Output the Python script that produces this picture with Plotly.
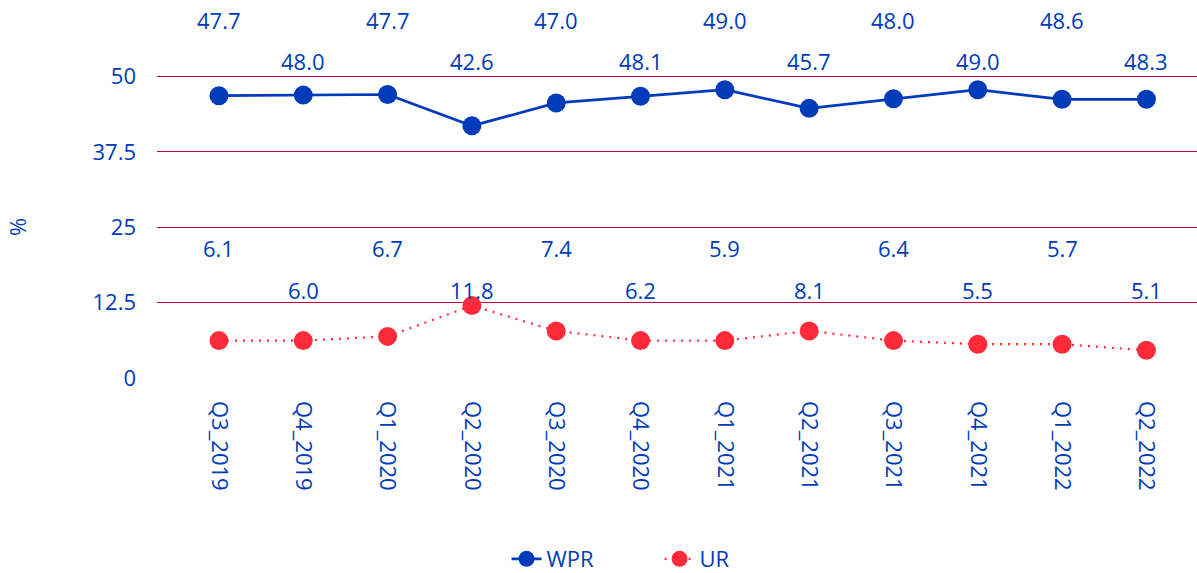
import plotly.graph_objects as go

quarters = ["Q3_2019", "Q4_2019", "Q1_2020", "Q2_2020", "Q3_2020", "Q4_2020",
            "Q1_2021", "Q2_2021", "Q3_2021", "Q4_2021", "Q1_2022", "Q2_2022"]
# plotted positions
wpr_values = [46.8, 46.9, 47.0, 41.8, 45.6, 46.7, 47.8, 44.7, 46.3, 47.8, 46.2, 46.2]
ur_values = [6.2, 6.2, 6.9, 12.0, 7.8, 6.2, 6.2, 7.8, 6.2, 5.6, 5.6, 4.6]
# value labels as printed on the chart
wpr_labels = ["47.7", "48.0", "47.7", "42.6", "47.0", "48.1", "49.0", "45.7", "48.0", "49.0", "48.6", "48.3"]
ur_labels = ["6.1", "6.0", "6.7", "11.8", "7.4", "6.2", "5.9", "8.1", "6.4", "5.5", "5.7", "5.1"]
y_ticks = [0, 12.5, 25, 37.5, 50]
y_ticktext = ["0", "12.5", "25", "37.5", "50"]

BLUE = "#003BBA"
RED = "#FF2A3A"
GRID = "#B8004F"
FONT = "Open Sans"
FS = 22

fig = go.Figure()
fig.add_trace(go.Scatter(
    x=quarters, y=wpr_values, name="WPR", mode="lines+markers",
    line=dict(color=BLUE, width=2.7), marker=dict(color=BLUE, size=19),
))
fig.add_trace(go.Scatter(
    x=quarters, y=ur_values, name="UR", mode="lines+markers",
    line=dict(color=RED, width=2.2, dash="2px,6px"), marker=dict(color=RED, size=19),
))

annotations = []
for i, (q, t) in enumerate(zip(quarters, wpr_labels)):
    annotations.append(dict(x=q, y=59.3 if i % 2 == 0 else 52.5, text=t, showarrow=False,
                            xref="x", yref="y", font=dict(family=FONT, size=FS, color=BLUE)))
for i, (q, t) in enumerate(zip(quarters, ur_labels)):
    annotations.append(dict(x=q, y=21.6 if i % 2 == 0 else 14.6, text=t, showarrow=False,
                            xref="x", yref="y", font=dict(family=FONT, size=FS, color=BLUE)))
annotations.append(dict(text="%", textangle=-90, showarrow=False,
                        xref="paper", yref="paper", x=(17 - 157) / 1040, y=(378 - 227) / 377,
                        xanchor="center", yanchor="middle",
                        font=dict(family=FONT, size=FS, color=BLUE)))

fig.update_layout(
    width=1197, height=573,
    margin=dict(l=157, r=0, t=1, b=195),
    paper_bgcolor="white", plot_bgcolor="white",
    font=dict(family=FONT, size=FS, color=BLUE),
    showlegend=True,
    legend=dict(orientation="h", x=0.551, xref="container", xanchor="center",
                y=1 - 559 / 573, yref="container", yanchor="middle",
                font=dict(family=FONT, size=FS, color=BLUE), entrywidth=108),
    annotations=annotations,
    xaxis=dict(type="category", range=[-0.735, 11.6], tickangle=90,
               showgrid=False, showline=False, zeroline=False,
               ticklabelstandoff=22, tickfont=dict(family=FONT, size=FS, color=BLUE)),
    yaxis=dict(range=[0, 62.5], tickvals=y_ticks, ticktext=y_ticktext,
               showgrid=True, gridcolor=GRID, gridwidth=1, zeroline=False, showline=False,
               ticklabelstandoff=20, tickfont=dict(family=FONT, size=FS, color=BLUE)),
)

fig.write_html("out.html", config={"displayModeBar": False},
               post_script="document.body.style.margin='0';")
